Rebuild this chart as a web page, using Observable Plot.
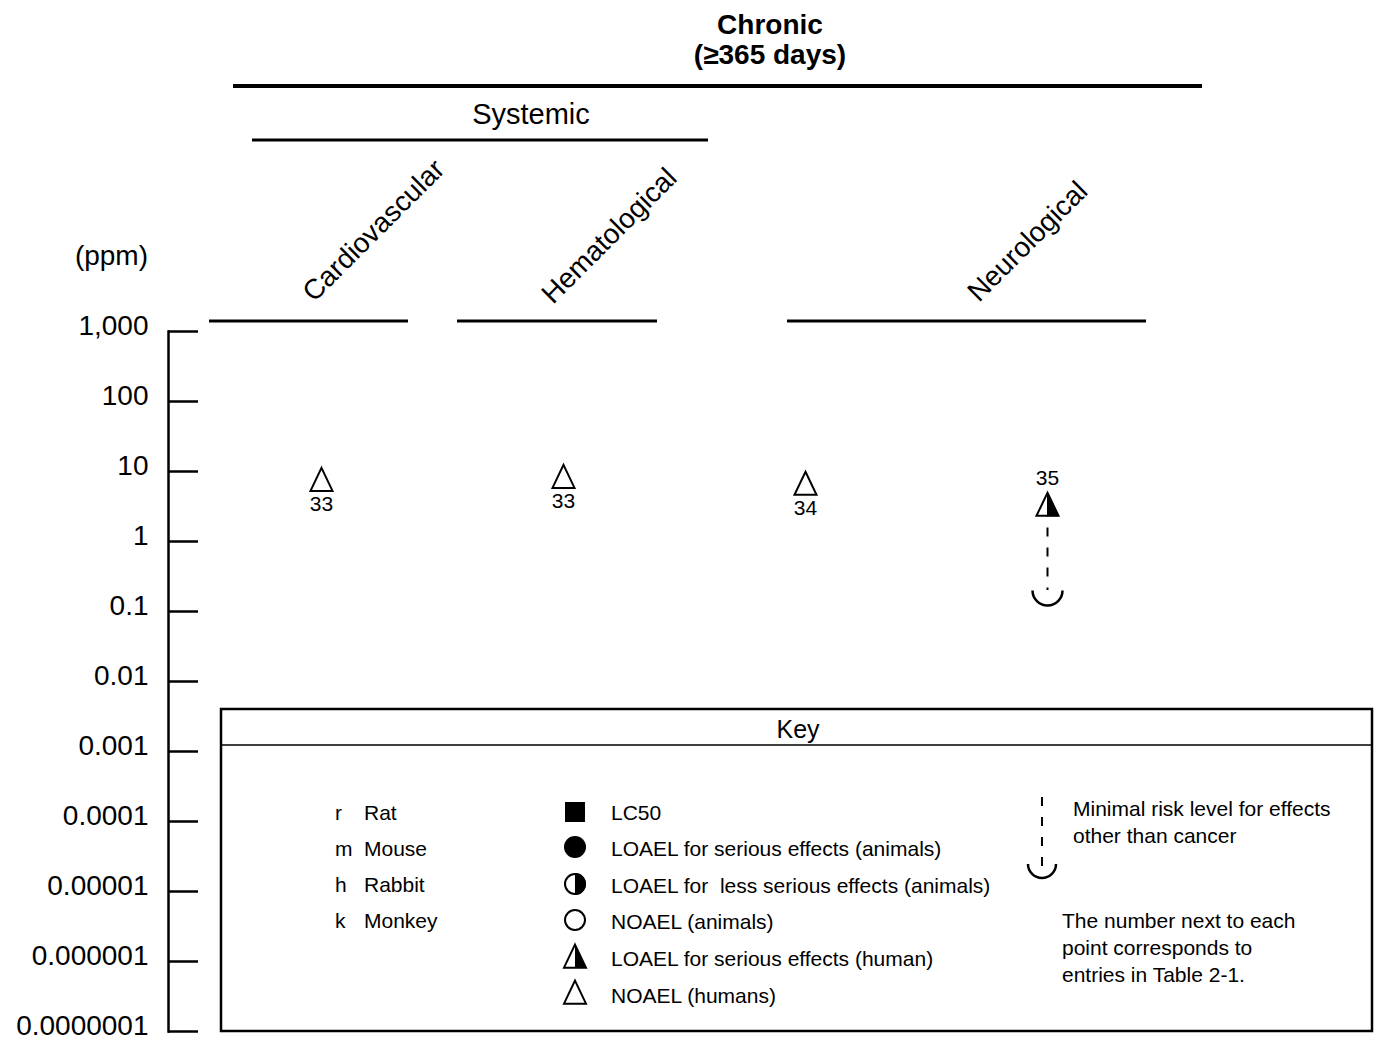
<!DOCTYPE html>
<html>
<head>
<meta charset="utf-8">
<script src="https://cdn.jsdelivr.net/npm/d3@7"></script>
<script src="https://cdn.jsdelivr.net/npm/@observablehq/plot@0.6"></script>
<style>
  html, body { margin: 0; padding: 0; background: #fff; }
  #chart svg { display: block; }
</style>
</head>
<body>
<div id="chart"></div>
<script>
// ---- data ----
const entryNumbers = ["33", "33", "34", "35"];
const systems = ["Cardiovascular", "Hematological", "Neurological", "Neurological"];
const doses = [6.8, 7.5, 6, 3];            // ppm
const effects = ["NOAEL (humans)", "NOAEL (humans)", "NOAEL (humans)", "LOAEL for serious effects (human)"];
const mrlEntries = ["35"];
const mrlValues = [0.2];                     // ppm
const yTicks = [1e3, 1e2, 1e1, 1, 0.1, 0.01, 0.001, 0.0001, 0.00001, 0.000001, 0.0000001];
const yTickLabels = ["1,000", "100", "10", "1", "0.1", "0.01", "0.001", "0.0001", "0.00001", "0.000001", "0.0000001"];
const speciesCodes = ["r", "m", "h", "k"];
const speciesNames = ["Rat", "Mouse", "Rabbit", "Monkey"];
const keyLabels = ["LC50", "LOAEL for serious effects (animals)", "LOAEL for  less serious effects (animals)",
  "NOAEL (animals)", "LOAEL for serious effects (human)", "NOAEL (humans)"];
const groupLabels = ["Cardiovascular", "Hematological", "Neurological"];

// ---- table built from the arrays ----
const points = entryNumbers.map((e, i) => ({
  key: systems[i] + "-" + e + "-" + i, entry: e, system: systems[i], dose: doses[i], effect: effects[i]
}));
const mrl = mrlEntries.map((e, i) => {
  const p = points.find(d => d.entry === e);
  return {key: p.key, from: p.dose, mrl: mrlValues[i]};
});

// ---- symbols ----
const TH = 23, TW = 22;
const triOpen = {draw(c) { c.moveTo(0, -2 * TH / 3); c.lineTo(TW / 2, TH / 3); c.lineTo(-TW / 2, TH / 3); c.closePath(); }};
const triRightHalf = {draw(c) { c.moveTo(0, -2 * TH / 3); c.lineTo(TW / 2, TH / 3); c.lineTo(0, TH / 3); c.closePath(); }};
const cup = {draw(c) { c.moveTo(15, 0); c.arc(0, 0, 15, 0, Math.PI); }};

const FONT = "'Liberation Sans', Arial, Helvetica, sans-serif";

const plot = Plot.plot({
  width: 1375,
  height: 1041,
  marginTop: 331,
  marginBottom: 10,
  marginLeft: 168,
  marginRight: 0,
  style: {fontFamily: FONT, background: "white", color: "black", overflow: "visible"},
  x: {type: "point", domain: points.map(d => d.key), range: [320, 1048], padding: 0, axis: null},
  y: {type: "log", domain: [1e-7, 1e3], axis: null},
  marks: [
    Plot.frame({anchor: "left", stroke: "black", strokeWidth: 2.5}),
    Plot.ruleY(yTicks, {y: d => d, stroke: "black", strokeWidth: 2.5, insetRight: 1375 - 168 - 30}),
    Plot.text(yTicks, {y: d => d, text: (d, i) => yTickLabels[i], frameAnchor: "left", textAnchor: "end", dx: -20, dy: -5, fontSize: 28, fill: "black"}),
    Plot.ruleX(mrl, {x: "key", y1: "from", y2: "mrl", stroke: "black", strokeWidth: 2, strokeDasharray: "9,11"}),
    Plot.dot(mrl, {x: "key", y: "mrl", symbol: cup, fill: "none", stroke: "black", strokeWidth: 2.5}),
    Plot.dot(points, {x: "key", y: "dose", symbol: triOpen, fill: "white", stroke: "black", strokeWidth: 2}),
    Plot.dot(points.filter(d => d.effect.startsWith("LOAEL")), {x: "key", y: "dose", symbol: triRightHalf, fill: "black", stroke: "black", strokeWidth: 1}),
    Plot.text(points.filter(d => d.effect.startsWith("NOAEL")), {x: "key", y: "dose", text: "entry", dy: 21, fontSize: 21, fill: "black"}),
    Plot.text(points.filter(d => d.effect.startsWith("LOAEL")), {x: "key", y: "dose", text: "entry", dy: -30, fontSize: 21, fill: "black"})
  ]
});

document.getElementById("chart").appendChild(plot);

// ---- headers and key (layout decoration) ----
const svg = d3.select(plot);
const g = svg.append("g").attr("font-family", FONT).attr("fill", "black").attr("text-anchor", "start");

g.append("text").attr("x", 770).attr("y", 34).attr("text-anchor", "middle").attr("font-size", 28).attr("font-weight", "bold").text("Chronic");
g.append("text").attr("x", 770).attr("y", 64).attr("text-anchor", "middle").attr("font-size", 28).attr("font-weight", "bold").text("(≥365 days)");
g.append("line").attr("x1", 233).attr("x2", 1202).attr("y1", 86).attr("y2", 86).attr("stroke", "black").attr("stroke-width", 4);
g.append("text").attr("x", 531).attr("y", 124).attr("text-anchor", "middle").attr("font-size", 29).text("Systemic");
g.append("line").attr("x1", 252).attr("x2", 708).attr("y1", 140).attr("y2", 140).attr("stroke", "black").attr("stroke-width", 3);

const groupAnchors = [[314, 303], [553, 305], [979, 303]];
const groupLines = [[209, 408], [457, 657], [787, 1146]];
groupLabels.forEach((lab, i) => {
  g.append("text").attr("transform", `translate(${groupAnchors[i][0]},${groupAnchors[i][1]}) rotate(-45)`)
    .attr("text-anchor", "start").attr("font-size", 28).text(lab);
  g.append("line").attr("x1", groupLines[i][0]).attr("x2", groupLines[i][1]).attr("y1", 321).attr("y2", 321)
    .attr("stroke", "black").attr("stroke-width", 3);
});
g.append("text").attr("x", 148).attr("y", 265).attr("text-anchor", "end").attr("font-size", 28).text("(ppm)");

// Key box
const key = svg.append("g").attr("font-family", FONT).attr("fill", "black").attr("text-anchor", "start");
key.append("rect").attr("x", 221).attr("y", 709).attr("width", 1151).attr("height", 322)
  .attr("fill", "white").attr("stroke", "black").attr("stroke-width", 2.5);
key.append("line").attr("x1", 221).attr("x2", 1372).attr("y1", 745).attr("y2", 745).attr("stroke", "black").attr("stroke-width", 1.5);
key.append("text").attr("x", 798).attr("y", 738).attr("text-anchor", "middle").attr("font-size", 25).text("Key");

const spRows = [813, 849, 885, 921];
speciesCodes.forEach((c, i) => {
  key.append("text").attr("x", 335).attr("y", spRows[i] + 7).attr("font-size", 21).text(c);
  key.append("text").attr("x", 364).attr("y", spRows[i] + 7).attr("font-size", 21).text(speciesNames[i]);
});

const symRows = [812, 847, 884, 920, 958, 994];
const lblRows = [813, 849, 886, 922, 959, 996];
const sx = 575;
key.append("rect").attr("x", sx - 10).attr("y", symRows[0] - 10).attr("width", 20).attr("height", 20).attr("fill", "black");
key.append("circle").attr("cx", sx).attr("cy", symRows[1]).attr("r", 11).attr("fill", "black");
key.append("circle").attr("cx", sx).attr("cy", symRows[2]).attr("r", 10).attr("fill", "white").attr("stroke", "black").attr("stroke-width", 2);
key.append("path").attr("d", d3.arc()({innerRadius: 0, outerRadius: 11, startAngle: 0, endAngle: Math.PI}))
  .attr("transform", `translate(${sx},${symRows[2]})`).attr("fill", "black");
key.append("circle").attr("cx", sx).attr("cy", symRows[3]).attr("r", 10).attr("fill", "white").attr("stroke", "black").attr("stroke-width", 2);
const tri = (cy) => `M${sx},${cy - 2 * TH / 3}L${sx + TW / 2},${cy + TH / 3}L${sx - TW / 2},${cy + TH / 3}Z`;
const triHalf = (cy) => `M${sx},${cy - 2 * TH / 3}L${sx + TW / 2},${cy + TH / 3}L${sx},${cy + TH / 3}Z`;
key.append("path").attr("d", tri(symRows[4] + 2)).attr("fill", "white").attr("stroke", "black").attr("stroke-width", 2);
key.append("path").attr("d", triHalf(symRows[4] + 2)).attr("fill", "black");
key.append("path").attr("d", tri(symRows[5] + 2)).attr("fill", "white").attr("stroke", "black").attr("stroke-width", 2);

keyLabels.forEach((t, i) => {
  key.append("text").attr("x", 611).attr("y", lblRows[i] + 7).attr("font-size", 21)
    .style("white-space", "pre").text(t);
});

key.append("line").attr("x1", 1042).attr("x2", 1042).attr("y1", 797).attr("y2", 866)
  .attr("stroke", "black").attr("stroke-width", 2).attr("stroke-dasharray", "9,11");
key.append("path").attr("d", "M1028,864 A14,14 0 0 0 1056,864").attr("fill", "none").attr("stroke", "black").attr("stroke-width", 2.5);
key.append("text").attr("x", 1073).attr("y", 816).attr("font-size", 21).text("Minimal risk level for effects");
key.append("text").attr("x", 1073).attr("y", 843).attr("font-size", 21).text("other than cancer");
key.append("text").attr("x", 1062).attr("y", 928).attr("font-size", 21).text("The number next to each");
key.append("text").attr("x", 1062).attr("y", 955).attr("font-size", 21).text("point corresponds to");
key.append("text").attr("x", 1062).attr("y", 982).attr("font-size", 21).text("entries in Table 2-1.");
</script>
</body>
</html>
